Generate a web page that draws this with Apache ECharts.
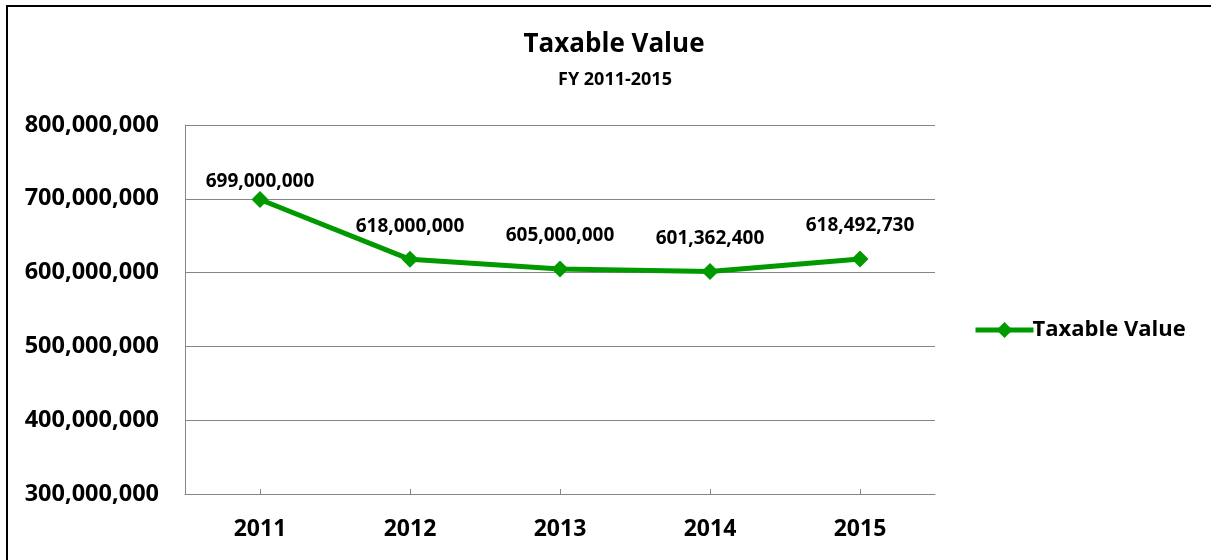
<!DOCTYPE html>
<html>
<head>
<meta charset="utf-8">
<script src="https://cdn.jsdelivr.net/npm/echarts@6/dist/echarts.min.js"></script>
<style>
html,body{margin:0;padding:0;background:#fff;}
#wrap{position:relative;width:1211px;height:560px;overflow:hidden;}
#chart{position:absolute;left:0;top:0;width:1211px;height:560px;}
#frame{position:absolute;left:6px;top:5px;width:1300px;height:700px;border-left:2px solid #000;border-top:2px solid #000;pointer-events:none;}
</style>
</head>
<body>
<div id="wrap"><div id="chart"></div><div id="frame"></div></div>
<script>
const categories = ['2011', '2012', '2013', '2014', '2015'];
const seriesName = 'Taxable Value';
const values = [699000000, 618000000, 605000000, 601362400, 618492730];
const yMin = 300000000, yMax = 800000000, yStep = 100000000;
const titleText = 'Taxable Value';
const subtitleText = 'FY 2011-2015';

const FONT = '"Open Sans", "Noto Sans", sans-serif';
const fmt = v => v.toLocaleString('en-US');
const green = '#009a00';

const chart = echarts.init(document.getElementById('chart'), null, {renderer: 'canvas'});
chart.setOption({
  animation: false,
  backgroundColor: '#fff',
  title: [
    {text: titleText, left: 609, top: 27, textAlign: 'center',
     textStyle: {fontFamily: FONT, fontWeight: 'bold', fontSize: 26, color: '#000'}},
    {text: subtitleText, left: 610, top: 66, textAlign: 'center',
     textStyle: {fontFamily: FONT, fontWeight: 'bold', fontSize: 18, color: '#000'}}
  ],
  legend: {
    orient: 'vertical', left: 968, top: 314,
    itemWidth: 58, itemHeight: 20, itemGap: 4,
    lineStyle: {width: 5},
    textStyle: {fontFamily: FONT, fontWeight: 'bold', fontSize: 22, color: '#000', padding: [0,0,0,-6]},
    data: [seriesName]
  },
  grid: {left: 185, right: 276, top: 125, bottom: 66, containLabel: false},
  xAxis: {
    type: 'category', data: categories, boundaryGap: true,
    axisLine: {lineStyle: {color: '#868686', width: 1}},
    axisTick: {show: true, alignWithLabel: true, inside: true, length: 5, lineStyle: {color: '#868686'}},
    axisLabel: {fontFamily: FONT, fontWeight: 'bold', fontSize: 23, color: '#000', margin: 24}
  },
  yAxis: {
    type: 'value', min: yMin, max: yMax, interval: yStep,
    axisLine: {show: true, lineStyle: {color: '#868686', width: 1}},
    axisTick: {show: false},
    splitLine: {lineStyle: {color: '#868686', width: 1}},
    axisLabel: {fontFamily: FONT, fontWeight: 'bold', fontSize: 23.5, color: '#000', margin: 26, formatter: fmt}
  },
  series: [{
    name: seriesName, type: 'line', data: values.map((v, i) => i === 0 ? {value: v, label: {distance: 0}} : v),
    symbol: 'diamond', symbolSize: 17,
    lineStyle: {color: green, width: 5},
    itemStyle: {color: green},
    label: {show: true, position: 'top', distance: 15, formatter: p => fmt(p.value),
      fontFamily: FONT, fontWeight: 'bold', fontSize: 19, color: '#000'}
  }]
});
</script>
</body>
</html>
